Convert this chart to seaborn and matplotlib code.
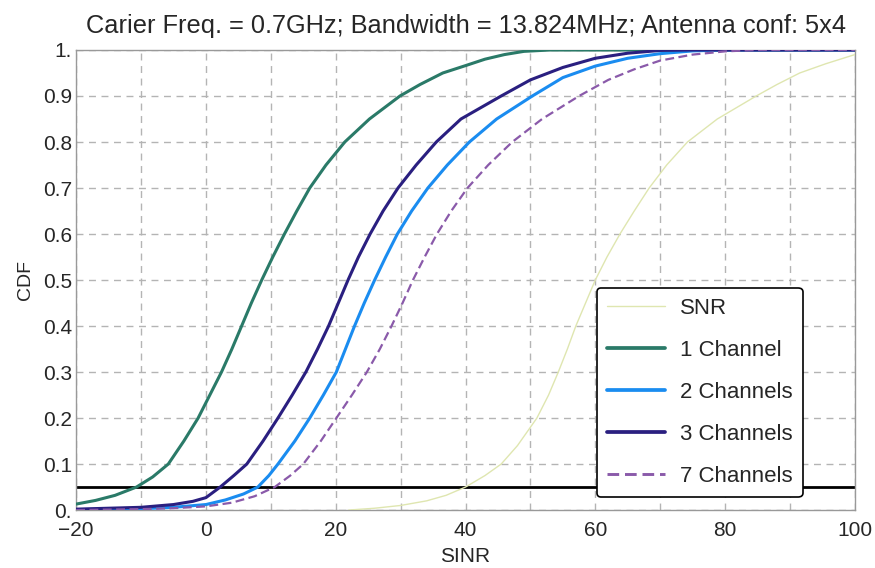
import matplotlib
matplotlib.use("Agg")
import matplotlib.pyplot as plt
import seaborn as sns
import pandas as pd

# ---- data ----
snr_x = [22, 26, 30, 34, 37, 40, 43, 45.5, 48, 51, 52.8, 54.3, 55.7, 57, 58.5, 60, 61.8, 63.8, 66, 68.3, 71, 74.2, 78.8, 84.8, 88, 91.5, 95.5, 100]
snr_y = [0.0, 0.004, 0.01, 0.02, 0.032, 0.05, 0.075, 0.1, 0.14, 0.2, 0.25, 0.3, 0.35, 0.4, 0.45, 0.5, 0.55, 0.6, 0.65, 0.7, 0.75, 0.8, 0.85, 0.9, 0.925, 0.95, 0.97, 0.99]

ch1_x = [-20, -17, -14, -10.7, -8.2, -5.8, -3.4, -1.2, 0.6, 2.4, 4.0, 5.5, 7.0, 8.6, 10.3, 12.1, 14.0, 16.0, 18.5, 21.4, 25.2, 29.9, 33, 36.5, 40, 43, 46, 49, 53, 100]
ch1_y = [0.013, 0.021, 0.032, 0.05, 0.072, 0.1, 0.15, 0.2, 0.25, 0.3, 0.35, 0.4, 0.45, 0.5, 0.55, 0.6, 0.65, 0.7, 0.75, 0.8, 0.85, 0.9, 0.925, 0.95, 0.966, 0.98, 0.99, 0.997, 1.0, 1.0]

ch2_x = [-20, -10, -5, 0, 3, 5.8, 8.0, 9.7, 11.1, 13.7, 16.0, 18.1, 20.1, 21.5, 22.9, 24.4, 26.0, 27.7, 29.5, 31.7, 34.2, 37.2, 40.6, 44.8, 50.3, 55, 60, 65, 70, 75, 80, 100]
ch2_y = [0.001, 0.003, 0.006, 0.012, 0.022, 0.035, 0.05, 0.075, 0.1, 0.15, 0.2, 0.25, 0.3, 0.35, 0.4, 0.45, 0.5, 0.55, 0.6, 0.65, 0.7, 0.75, 0.8, 0.85, 0.9, 0.94, 0.965, 0.982, 0.992, 0.998, 1.0, 1.0]

ch3_x = [-20, -10, -5, -2, 0, 2.2, 4.3, 6.3, 8.8, 11.1, 13.3, 15.4, 17.2, 18.9, 20.4, 21.9, 23.5, 25.3, 27.3, 29.6, 32.4, 35.5, 39.3, 45.5, 50, 55, 60, 65, 70, 75, 100]
ch3_y = [0.002, 0.006, 0.012, 0.019, 0.027, 0.05, 0.075, 0.1, 0.15, 0.2, 0.25, 0.3, 0.35, 0.4, 0.45, 0.5, 0.55, 0.6, 0.65, 0.7, 0.75, 0.8, 0.85, 0.9, 0.935, 0.962, 0.982, 0.993, 0.999, 1.0, 1.0]

ch7_x = [-20, -10, -5, 0, 4, 7.5, 10.6, 13, 15, 17.7, 20.1, 22.5, 24.8, 26.8, 28.6, 30.3, 31.9, 33.7, 35.6, 37.8, 40.3, 43.5, 47.2, 51.8, 57.5, 62, 66, 70, 75, 80, 85, 100]
ch7_y = [0.0, 0.002, 0.004, 0.008, 0.016, 0.03, 0.05, 0.075, 0.1, 0.15, 0.2, 0.25, 0.3, 0.35, 0.4, 0.45, 0.5, 0.55, 0.6, 0.65, 0.7, 0.75, 0.8, 0.85, 0.9, 0.935, 0.958, 0.977, 0.99, 0.997, 1.0, 1.0]

threshold = 0.05
series_names = ["SNR", "1 Channel", "2 Channels", "3 Channels", "7 Channels"]
colors = ["#dfe6b0", "#2a7a68", "#1a8cf0", "#2a1f80", "#8a5aaa"]
x_ticks = [-20, 0, 20, 40, 60, 80, 100]
y_ticks = [0, 0.1, 0.2, 0.3, 0.4, 0.5, 0.6, 0.7, 0.8, 0.9, 1.0]
y_tick_labels = ["0.", "0.1", "0.2", "0.3", "0.4", "0.5", "0.6", "0.7", "0.8", "0.9", "1."]

frames = []
for name, xs, ys in zip(series_names,
                        [snr_x, ch1_x, ch2_x, ch3_x, ch7_x],
                        [snr_y, ch1_y, ch2_y, ch3_y, ch7_y]):
    frames.append(pd.DataFrame({"SINR": xs, "CDF": ys, "series": name}))
df = pd.concat(frames, ignore_index=True)

sns.set_style("white")
plt.rcParams["font.family"] = ["Liberation Sans", "DejaVu Sans"]

fig = plt.figure(figsize=(8.75, 5.68), dpi=100)
ax = fig.add_axes([0.087, 0.102, 0.890, 0.810])

widths = {"SNR": 1.0, "1 Channel": 2.2, "2 Channels": 2.2, "3 Channels": 2.2, "7 Channels": 1.6}
dashes = {"SNR": "", "1 Channel": "", "2 Channels": "", "3 Channels": "", "7 Channels": (4, 2)}

ax.axhline(threshold, color="black", lw=2.0, zorder=1)

sns.lineplot(data=df, x="SINR", y="CDF", hue="series", style="series",
             hue_order=series_names, style_order=series_names,
             palette=dict(zip(series_names, colors)), dashes=dashes,
             sort=False, estimator=None, ax=ax, zorder=3)
for line, name in zip(ax.get_lines()[1:], series_names):
    line.set_linewidth(widths[name])
    line.set_solid_joinstyle("round")
    line.set_dash_joinstyle("round")

ax.set_xlim(-20, 100)
ax.set_ylim(0, 1)
ax.set_xticks(x_ticks)
ax.set_xticks(list(range(-10, 100, 20)), minor=True)
ax.set_yticks(y_ticks)
ax.set_yticklabels(y_tick_labels)
ax.grid(True, which="both", axis="x", color="#b4b4b4", ls=(0, (5, 4)), lw=1.0)
ax.grid(True, which="major", axis="y", color="#b4b4b4", ls=(0, (5, 4)), lw=1.0)
ax.tick_params(axis="both", which="both", labelsize=15, length=0)
ax.tick_params(axis="x", pad=8)
ax.tick_params(axis="y", pad=3)
for s in ax.spines.values():
    s.set_color("#999999")
    s.set_linewidth(1.0)

ax.set_xlabel("SINR", fontsize=15, family=["Liberation Sans Narrow", "Liberation Sans"], labelpad=5)
ax.set_ylabel("CDF", fontsize=14, family=["Liberation Sans Narrow", "Liberation Sans"], labelpad=6)
ax.set_title("Carier Freq. = 0.7GHz; Bandwidth = 13.824MHz; Antenna conf: 5x4", fontsize=18.3, pad=12.5)

handles, labels = ax.get_legend_handles_labels()
for h, name in zip(handles, labels):
    h.set_linewidth(widths[name] + (0.5 if name != "SNR" else 0))
leg = ax.legend(handles, labels, loc="lower right", bbox_to_anchor=(0.933, 0.028),
                borderaxespad=0.0,
                fontsize=16, frameon=True, fancybox=True, framealpha=1,
                edgecolor="black", handlelength=2.6, handletextpad=0.7,
                labelspacing=0.95, borderpad=0.45)
leg.get_frame().set_linewidth(1.2)
leg.set_zorder(5)

fig.savefig("out.png", dpi=100)
